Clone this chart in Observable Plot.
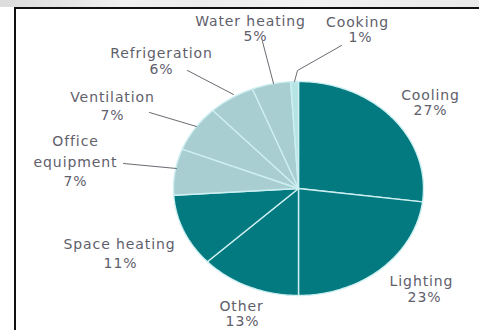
<!DOCTYPE html>
<html>
<head>
<meta charset="utf-8">
<script src="https://cdn.jsdelivr.net/npm/d3@7"></script>
<script src="https://cdn.jsdelivr.net/npm/@observablehq/plot@0.6"></script>
<style>
  html, body { margin: 0; padding: 0; background: #fff; }
  #wrap { position: relative; width: 479px; height: 330px; overflow: hidden; background: #fff; }
  #strip { position: absolute; left: 0; top: 0; width: 479px; height: 7px;
    background: linear-gradient(90deg, #dcdcdc 0px, #e4e4e4 60px, #f0f0f0 120px, #ececec 200px, #f2f2f2 320px, #e9e9e9 479px); }
  #frame { position: absolute; left: 14px; top: 7px; width: 470px; height: 330px;
    border-top: 2px solid #111; border-left: 2px solid #111; box-sizing: border-box; }
  #chart { position: absolute; left: 0; top: 0; }
  #chart svg text { letter-spacing: 0.9px; }
</style>
</head>
<body>
<div id="wrap">
  <div id="strip"></div>
  <div id="frame"></div>
  <div id="chart"></div>
</div>
<script>
// ---- data ----
const categories = ["Cooling", "Lighting", "Other", "Space heating", "Office equipment",
                    "Ventilation", "Refrigeration", "Water heating", "Cooking"];
const nameLines = ["Cooling", "Lighting", "Other", "Space heating", "Office\nequipment",
                   "Ventilation", "Refrigeration", "Water heating", "Cooking"];
const shares = [27, 23, 13, 11, 7, 7, 6, 5, 1];
const sliceColors = ["#037a7f", "#037a7f", "#037a7f", "#037a7f", "#a8ced1",
                     "#a8ced1", "#a8ced1", "#a8ced1", "#b6e3e4"];

// ---- layout (pie units: centre 0,0, radius 1) ----
const cx = 298, cy = 188, rx = 125, ry = 107, W = 479, H = 330;
const toU = px => (px - cx) / rx;
const toV = py => (cy - py) / ry;
// label centres in pixels [nameX, nameY, pctX, pctY]
const labelPos = [
  [430, 93, 430, 110],
  [421, 279, 424, 297],
  [241, 304, 242, 321],
  [119, 242, 120, 263],
  [75, 149.5, 75, 181],
  [112, 95, 112, 115],
  [161, 51, 161, 69],
  [250, 19, 255, 36],
  [357, 20, 360, 37]
];
// leader lines (pixels), by category index
const leaders = [
  [8, [[294, 81], [297, 70], [341, 45]]],
  [7, [[262, 41], [273, 83]]],
  [6, [[187, 70], [233, 94]]],
  [5, [[149, 112], [196, 126]]],
  [4, [[123, 163], [176, 168]]]
];

// ---- build slice polygons from the shares ----
const slicePts = [];
let acc = 0;
const total = d3.sum(shares);
shares.forEach((s, i) => {
  const a0 = acc / total * 2 * Math.PI;
  const a1 = (acc + s) / total * 2 * Math.PI;
  acc += s;
  const n = Math.max(3, Math.ceil(s * 3));
  slicePts.push({cat: categories[i], u: 0, v: 0});
  for (let k = 0; k <= n; k++) {
    const a = a0 + (a1 - a0) * k / n;
    slicePts.push({cat: categories[i], u: Math.sin(a), v: Math.cos(a)});
  }
});

const names = categories.map((c, i) => ({cat: c, t: nameLines[i], u: toU(labelPos[i][0]), v: toV(labelPos[i][1])}));
const pcts = categories.map((c, i) => ({cat: c, t: shares[i] + "%", u: toU(labelPos[i][2]), v: toV(labelPos[i][3])}));
const leaderPts = [];
leaders.forEach(([i, pts]) => pts.forEach(p => leaderPts.push({cat: categories[i], u: toU(p[0]), v: toV(p[1])})));

const chart = Plot.plot({
  width: W,
  height: H,
  margin: 0,
  style: {background: "transparent", overflow: "visible"},
  x: {domain: [toU(0), toU(W)], range: [0, W], axis: null},
  y: {domain: [toV(H), toV(0)], range: [H, 0], axis: null},
  color: {domain: categories, range: sliceColors},
  marks: [
    Plot.line(slicePts, {x: "u", y: "v", z: "cat", fill: "cat", stroke: "#cdeff1",
      strokeWidth: 1.4, curve: "linear-closed"}),
    Plot.line(leaderPts, {x: "u", y: "v", z: "cat", stroke: "#6a6a72", strokeWidth: 1}),
    Plot.text(names, {x: "u", y: "v", text: "t", fontSize: 14, lineHeight: 1.5,
      fontFamily: "DejaVu Sans", fill: "#60606b", textAnchor: "middle"}),
    Plot.text(pcts, {x: "u", y: "v", text: "t", fontSize: 14,
      fontFamily: "DejaVu Sans", fill: "#60606b", textAnchor: "middle"})
  ]
});
document.getElementById("chart").appendChild(chart);
</script>
</body>
</html>
